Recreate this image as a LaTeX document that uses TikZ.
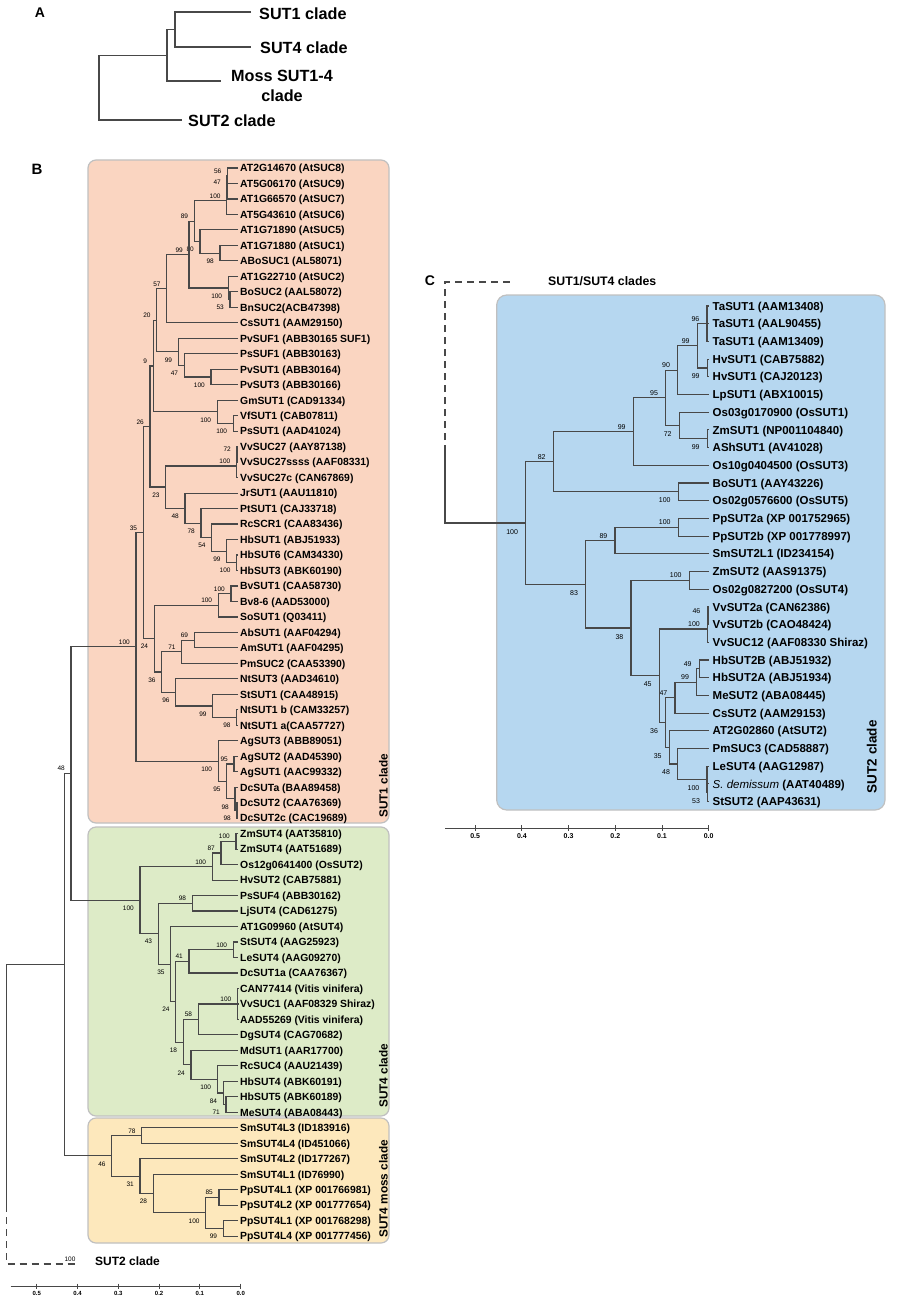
\documentclass[tikz,border=0pt]{standalone}
\usepackage{fontspec}
\setmainfont{Liberation Sans}
\usepackage{tikz}
\usetikzlibrary{calc}
\definecolor{sutone}{RGB}{250,213,193}
\definecolor{sutfour}{RGB}{221,235,199}
\definecolor{mossbg}{RGB}{253,232,188}
\definecolor{suttwo}{RGB}{182,215,240}
\definecolor{boxline}{RGB}{192,192,192}
\definecolor{branchc}{RGB}{72,72,72}
\tikzset{branch/.style={draw=branchc, line width=1.15pt},
%bootstrap values, above (u) or below (d) the stem
bsu/.style={font=\fontsize{6.5}{7}\selectfont, anchor=base east, inner sep=0pt, xshift=-6pt, yshift=2.5pt},
bsd/.style={font=\fontsize{6.5}{7}\selectfont, anchor=base east, inner sep=0pt, xshift=-6pt, yshift=-10.2pt},
leafB/.style={font=\fontsize{10.4}{12}\selectfont\bfseries, anchor=base west, inner sep=0pt},
leafC/.style={font=\fontsize{11.5}{13}\selectfont\bfseries, anchor=base west, inner sep=0pt},
cladebox/.style={draw=boxline, line width=1.2pt, rounded corners=8pt},
cladelab/.style={font=\fontsize{11.8}{13}\selectfont\bfseries, rotate=90, anchor=west, inner sep=0pt},
bigclade/.style={font=\fontsize{16.2}{20.7}\selectfont\bfseries, inner sep=0pt},
panel/.style={font=\fontsize{14}{16}\selectfont\bfseries, inner sep=0pt},
scalebar/.style={draw=branchc, line width=1pt},
ticklab/.style={font=\fontsize{6}{7}\selectfont\bfseries, inner sep=0pt}}
% clade: name, x, upper child, lower child, bootstrap, side
\newcommand\clade[6]{%
  \coordinate (#1m) at ($(#3)!0.5!(#4)$);
  \coordinate (#1) at (#1m -| #2,0);
  \draw[branch] (#3) -| (#1) |- (#4);
  \node[bs#6] (#1l) at (#1) {#5};}
\newcommand\cladeIII[7]{%
  \coordinate (#1m) at ($(#3)!0.5!(#5)$);
  \coordinate (#1) at (#1m -| #2,0);
  \draw[branch] (#3) -| (#1) |- (#5);
  \draw[branch] (#4) -| (#1);
  \node[bs#7] (#1l) at (#1) {#6};}

\begin{document}
\begin{tikzpicture}[x=1pt,y=-1pt]
\useasboundingbox (0,0) rectangle (920,1300);

% A
\node[panel] (labA) at (40,13) {A};
\coordinate (a1) at (251,12);
\coordinate (a4) at (251,47);
\coordinate (am) at (221,81);
\coordinate (a2) at (182,120);
\clade{aSa}{175}{a1}{a4}{}{u}
\clade{aSb}{167}{aSa}{am}{}{u}
\clade{aSc}{99}{aSb}{a2}{}{u}
\node[bigclade, anchor=west] (ta1) at (259,13.5) {SUT1 clade};
\node[bigclade, anchor=west] (ta4) at (260,47.5) {SUT4 clade};
\node[bigclade, align=center] (tam) at (282,86) {Moss SUT1-4\\clade};
\node[bigclade, anchor=west] (ta2) at (188,120.5) {SUT2 clade};

% B
\node[panel, font=\fontsize{15}{16}\selectfont\bfseries] (labB) at (37,169) {B};
\draw[cladebox, fill=sutone] (88,160) rectangle (389,823);
\draw[cladebox, fill=sutfour] (88,827) rectangle (389,1116);
\draw[cladebox, fill=mossbg] (88,1118) rectangle (389,1243);
\node[cladelab] (cl1) at (383.5,818) {SUT1 clade};
\node[cladelab] (cl4) at (383.5,1108) {SUT4 clade};
\node[cladelab] (clm) at (383.5,1238) {SUT4 moss clade};

\foreach \txt [count=\i] in {AT2G14670 (AtSUC8), AT5G06170 (AtSUC9), AT1G66570 (AtSUC7),
  AT5G43610 (AtSUC6), AT1G71890 (AtSUC5), AT1G71880 (AtSUC1), ABoSUC1 (AL58071),
  AT1G22710 (AtSUC2), BoSUC2 (AAL58072), BnSUC2(ACB47398), CsSUT1 (AAM29150),
  PvSUF1 (ABB30165 SUF1), PsSUF1 (ABB30163), PvSUT1 (ABB30164), PvSUT3 (ABB30166),
  GmSUT1 (CAD91334), VfSUT1 (CAB07811), PsSUT1 (AAD41024), VvSUC27 (AAY87138),
  VvSUC27ssss (AAF08331), VvSUC27c (CAN67869), JrSUT1 (AAU11810), PtSUT1 (CAJ33718),
  RcSCR1 (CAA83436), HbSUT1 (ABJ51933), HbSUT6 (CAM34330), HbSUT3 (ABK60190),
  BvSUT1 (CAA58730), Bv8-6 (AAD53000), SoSUT1 (Q03411), AbSUT1 (AAF04294),
  AmSUT1 (AAF04295), PmSUC2 (CAA53390), NtSUT3 (AAD34610), StSUT1 (CAA48915),
  NtSUT1 b (CAM33257), NtSUT1 a(CAA57727), AgSUT3 (ABB89051), AgSUT2 (AAD45390),
  AgSUT1 (AAC99332), DcSUTa (BAA89458), DcSUT2 (CAA76369), DcSUT2c (CAC19689),
  ZmSUT4 (AAT35810), ZmSUT4 (AAT51689), Os12g0641400 (OsSUT2), HvSUT2 (CAB75881),
  PsSUF4 (ABB30162), LjSUT4 (CAD61275), AT1G09960 (AtSUT4), StSUT4 (AAG25923),
  LeSUT4 (AAG09270), DcSUT1a (CAA76367), CAN77414 (Vitis vinifera),
  VvSUC1 (AAF08329 Shiraz), AAD55269 (Vitis vinifera), DgSUT4 (CAG70682),
  MdSUT1 (AAR17700), RcSUC4 (AAU21439), HbSUT4 (ABK60191), HbSUT5 (ABK60189),
  MeSUT4 (ABA08443), SmSUT4L3 (ID183916), SmSUT4L4 (ID451066), SmSUT4L2 (ID177267),
  SmSUT4L1 (ID76990), PpSUT4L1 (XP 001766981), PpSUT4L2 (XP 001777654),
  PpSUT4L1 (XP 001768298), PpSUT4L4 (XP 001777456)}
{
  \pgfmathsetmacro\yy{168+(\i-1)*15.48}
  \coordinate (b\i) at (238,\yy);
  \node[leafB] (bt\i) at (240,\yy+3.8) {\txt};
}

%SUT1 clade
\clade{n56}{227.5}{b1}{b2}{56}{u}
\clade{n47}{227}{n56}{b3}{47}{u}
\clade{na100}{226.7}{n47}{b4}{100}{u}
\clade{n98}{220}{b6}{b7}{98}{d}
\clade{n80}{200}{b5}{n98}{80}{d}
\clade{n89}{194.3}{na100}{n80}{89}{u}
\clade{n53}{230}{b9}{b10}{53}{d}
\clade{nb100}{228.3}{b8}{n53}{100}{d}
\clade{n99}{189}{n89}{nb100}{99}{u}
\clade{n57}{166.7}{n99}{b11}{57}{u}
\clade{nc100}{211}{b14}{b15}{100}{d}
\clade{n47b}{184.3}{b13}{nc100}{47}{d}
\clade{n99b}{178.3}{b12}{n47b}{99}{d}
\clade{n20}{156.7}{n57}{n99b}{20}{u}
\clade{nd100}{233.3}{b17}{b18}{100}{d}
\clade{ne100}{217.3}{b16}{nd100}{100}{d}
\clade{n9}{153.3}{n20}{ne100}{9}{u}
\clade{n72}{237}{b19}{b20}{72}{u}
\clade{nf100}{236.5}{n72}{b21}{100}{u}
\clade{ng100}{236.7}{b26}{b27}{100}{d}
\clade{n99c}{226.7}{b25}{ng100}{99}{d}
\clade{n54}{211.7}{b24}{n99c}{54}{d}
\clade{n78}{201}{b23}{n54}{78}{d}
\clade{n48b}{185}{b22}{n78}{48}{d}
\clade{n23}{165.7}{nf100}{n48b}{23}{d}
\clade{n26}{150}{n9}{n23}{26}{u}
\clade{nh100}{231}{b28}{b29}{100}{u}
\clade{ni100}{218.3}{nh100}{b30}{100}{u}
\clade{n69}{194.3}{b31}{b32}{69}{u}
\clade{n71}{181.7}{n69}{b33}{71}{u}
\clade{n98b}{236.7}{b36}{b37}{98}{d}
\clade{n99d}{212.7}{b35}{n98b}{99}{d}
\clade{n96}{175.7}{b34}{n99d}{96}{d}
\clade{n36}{161.7}{n71}{n96}{36}{d}
\clade{n24}{154.3}{ni100}{n36}{24}{d}
\clade{n35}{143.3}{n26}{n24}{35}{u}
\clade{n95a}{234}{b39}{b40}{95}{u}
\clade{n98c}{237}{b42}{b43}{98}{d}
\clade{n98d}{235}{b41}{n98c}{98}{d}
\clade{n95b}{226.7}{n95a}{n98d}{95}{d}
\clade{nj100}{218.3}{b38}{n95b}{100}{d}
\clade{nk100}{136}{n35}{nj100}{100}{u}

%SUT4 clade
\clade{nl100}{236}{b44}{b45}{100}{u}
\clade{n87}{221}{nl100}{b46}{87}{u}
\clade{nm100}{212.3}{n87}{b47}{100}{u}
\clade{n98e}{192.3}{b48}{b49}{98}{u}
\clade{nn100}{233.3}{b51}{b52}{100}{u}
\clade{n41}{189}{nn100}{b53}{41}{u}
\cladeIII{np100}{237.5}{b54}{b55}{b56}{100}{u}
\clade{n58}{198.3}{np100}{b57}{58}{u}
\clade{n71b}{226}{b61}{b62}{71}{d}
\clade{n84}{223.3}{b60}{n71b}{84}{d}
\clade{nq100}{217.3}{b59}{n84}{100}{d}
\clade{n24c}{191}{b58}{nq100}{24}{d}
\clade{n18}{183.3}{n58}{n24c}{18}{d}
\clade{n24b}{175.7}{n41}{n18}{24}{d}
\clade{n35b}{170.7}{b50}{n24b}{35}{d}
\clade{n43}{158.3}{n98e}{n35b}{43}{d}
\clade{no100}{140}{nm100}{n43}{100}{d}
\clade{n48}{71}{nk100}{no100}{48}{u}

%moss clade
\clade{n78b}{141.7}{b63}{b64}{78}{u}
\clade{n85}{219}{b67}{b68}{85}{u}
\clade{n99e}{223.3}{b69}{b70}{99}{d}
\clade{nr100}{205.7}{n85}{n99e}{100}{d}
\clade{n28}{153.3}{b66}{nr100}{28}{d}
\clade{n31}{140}{b65}{n28}{31}{d}
\clade{n46}{111.7}{n78b}{n31}{46}{d}
\clade{nB}{64.3}{n48}{n46}{}{u}

% root and SUT2 clade
\coordinate (rB) at (nB -| 6.7,0);
\coordinate (rBd) at (6.7,1205);
\coordinate (s2end) at (77.7,1264);
\draw[branch] (nB) -- (rB) -- (rBd);
\draw[branch, dash pattern=on 7pt off 5pt] (rBd) |- (s2end);
\node[font=\fontsize{6.5}{7}\selectfont, inner sep=0pt] (s2bs) at (70,1259.3) {100};
\node[font=\fontsize{12}{14}\selectfont\bfseries, anchor=west, inner sep=0pt] (s2txt) at (95,1261.5) {SUT2 clade};

%scale
\draw[scalebar] (10.7,1286) coordinate (sbB0) -- (240.7,1286) coordinate (sbB1);
\foreach \v [count=\k] in {0.0,0.1,0.2,0.3,0.4,0.5}
  \draw[scalebar] ({240.7-\v*408},1283.5) -- ++(0,5) node[ticklab, below=2.5pt] (tkB\k) {\v};

% C
\node[panel] (labC) at (430,281) {C};
\draw[cladebox, fill=suttwo, rounded corners=10pt] (496.7,295) rectangle (885,810);
\node[cladelab, font=\fontsize{13.5}{15}\selectfont\bfseries] (cl2) at (871.7,793.3) {SUT2 clade};

\foreach \txt [count=\i] in {TaSUT1 (AAM13408), TaSUT1 (AAL90455), TaSUT1 (AAM13409),
  HvSUT1 (CAB75882), HvSUT1 (CAJ20123), LpSUT1 (ABX10015), Os03g0170900 (OsSUT1),
  ZmSUT1 (NP001104840), AShSUT1 (AV41028), Os10g0404500 (OsSUT3), BoSUT1 (AAY43226),
  Os02g0576600 (OsSUT5), PpSUT2a (XP 001752965), PpSUT2b (XP 001778997),
  SmSUT2L1 (ID234154), ZmSUT2 (AAS91375), Os02g0827200 (OsSUT4), VvSUT2a (CAN62386),
  VvSUT2b (CAO48424), VvSUC12 (AAF08330 Shiraz), HbSUT2B (ABJ51932), HbSUT2A (ABJ51934),
  MeSUT2 (ABA08445), CsSUT2 (AAM29153), AT2G02860 (AtSUT2), PmSUC3 (CAD58887),
  LeSUT4 (AAG12987), \textit{\mdseries S. demissum} (AAT40489), StSUT2 (AAP43631)}
{
  \pgfmathsetmacro\yy{306+(\i-1)*17.70}
  \coordinate (c\i) at (708.5,\yy);
  \node[leafC] (ct\i) at (712.5,\yy+4.1) {\txt};
}

\begin{scope}[bsu/.append style={xshift=-1.5pt, font=\fontsize{7}{8}\selectfont},
              bsd/.append style={xshift=-1.5pt, yshift=-0.8pt, font=\fontsize{7}{8}\selectfont}]
\cladeIII{n96c}{707}{c1}{c2}{c3}{96}{u}
\clade{n99g}{707.3}{c4}{c5}{99}{d}
\clade{n99f}{697.3}{n96c}{n99g}{99}{u}
\clade{n90}{677.7}{n99f}{c6}{90}{u}
\clade{n99h}{707.3}{c8}{c9}{99}{d}
\clade{n72c}{679.3}{c7}{n99h}{72}{d}
\clade{n95}{665.7}{n90}{n72c}{95}{u}
\clade{n99i}{633.3}{n95}{c10}{99}{u}
\clade{ns100}{678.3}{c11}{c12}{100}{d}
\clade{n82}{553.3}{n99i}{ns100}{82}{u}
\clade{nt100}{678.3}{c13}{c14}{100}{u}
\clade{n89c}{615}{nt100}{c15}{89}{u}
\clade{nu100}{689.3}{c16}{c17}{100}{u}
\clade{n46b}{708}{c18}{c19}{46}{u}
\clade{nv100}{707.5}{n46b}{c20}{100}{u}
\clade{n49}{699.3}{c21}{c22}{49}{u}
\clade{n99j}{696.7}{n49}{c23}{99}{u}
\clade{n47c}{675}{n99j}{c24}{47}{u}
\clade{n53c}{707.7}{c28}{c29}{53}{d}
\clade{nw100}{707}{c27}{n53c}{100}{d}
\clade{n48c}{677.7}{c26}{nw100}{48}{d}
\clade{n35c}{669.3}{c25}{n48c}{35}{d}
\clade{n36c}{665.7}{n47c}{n35c}{36}{d}
\clade{n45}{659.3}{nv100}{n36c}{45}{d}
\clade{n38}{631}{nu100}{n45}{38}{d}
\clade{n83}{585.7}{n89c}{n38}{83}{d}
\clade{nx100}{525.7}{n82}{n83}{100}{d}
\end{scope}

% root and SUT1/SUT4 clades
\coordinate (rC) at (nx100 -| 445,0);
\coordinate (rCd) at (445,452);
\coordinate (s14end) at (511.7,282);
\draw[branch] (nx100) -- (rC) -- (rCd);
\draw[branch, dash pattern=on 7pt off 5pt] (rCd) |- (s14end);
\node[font=\fontsize{12.3}{14}\selectfont\bfseries, anchor=west, inner sep=0pt] (s14txt) at (548,281) {SUT1/SUT4 clades};

%scale
\draw[scalebar] (445,828.3) coordinate (sbC0) -- (708.7,828.3) coordinate (sbC1);
\foreach \v [count=\k] in {0.0,0.1,0.2,0.3,0.4,0.5}
  \draw[scalebar] ({708.7-\v*467},825) -- ++(0,5.7) node[ticklab, font=\fontsize{7}{8}\selectfont\bfseries, below=2.3pt] (tkC\k) {\v};

\end{tikzpicture}
\end{document}
